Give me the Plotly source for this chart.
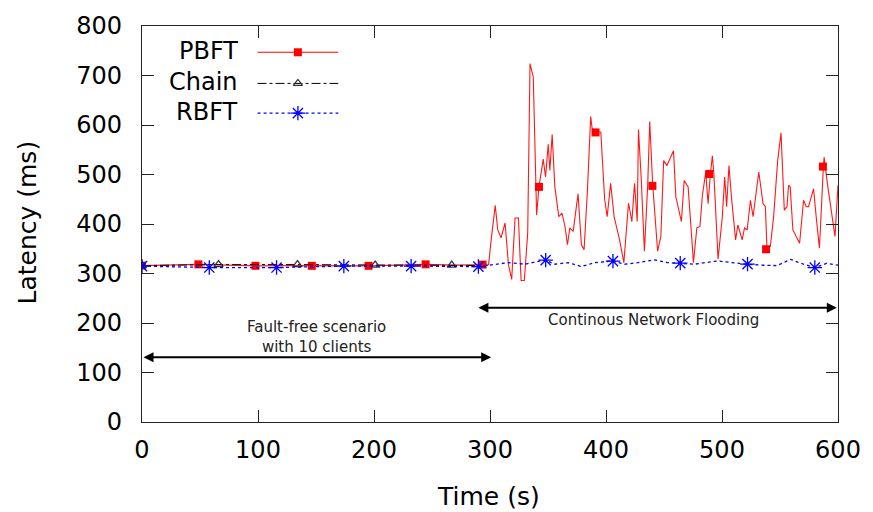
import plotly.graph_objects as go

# ---------------- data ----------------
pbft_t = [0, 24, 48.6, 73, 98, 122, 146, 171, 195, 220, 244.5, 270, 294, 298.8,
          301, 304.5, 306.7, 309.5, 313, 315.9, 318.7, 321.6, 324.5, 326.8, 329.6,
          332.5, 334.5, 337.3, 340.2, 342.2, 345.9, 347.9, 350.2, 351.6, 353.6,
          355.9, 359.3, 362, 364.5, 366.8, 368.8, 371.7, 375.9, 378.8, 381.1, 384,
          386.8, 388, 390, 393, 395.5, 398.8, 401, 404, 407, 409, 411.7, 415.4,
          419.4, 422.3, 424.6, 426.9, 428, 430.3, 433.1, 436, 437.7, 440.2, 444.5,
          447.3, 449.7, 452.5, 455.9, 458.2, 460.2, 463, 465, 467.4, 470.8, 475.4,
          478.3, 481, 483.1, 486, 488, 490, 491.7, 493, 496.6, 500.3, 502.3, 504,
          506, 508, 511.7, 513.7, 517.4, 519.4, 521.7, 524.5, 526.8, 531.7, 535.4,
          537.4, 538.8, 541.7, 544.5, 548, 550.9, 553.7, 556, 557.4, 558.8, 561.1,
          566.9, 570.3, 572.6, 574.6, 578.9, 581.2, 584, 587.4, 588, 590.9, 593.7,
          597.4, 600]
pbft_lat = [316, 317, 318.5, 317, 315.5, 316, 315.5, 316, 315.5, 317, 318.5, 317, 318, 318,
            368, 438, 388, 372, 402, 318, 288, 412, 412, 286, 286,
            382, 724, 697, 418, 475, 531, 495, 561, 508, 581,
            475, 415, 422, 397, 358, 392, 385, 461, 358, 348, 468,
            617, 594, 588, 586, 586, 451, 415, 482, 415, 397, 368, 322,
            442, 405, 482, 405, 591, 495, 345, 482, 607, 482, 345,
            375, 528, 518, 534, 548, 455, 428, 405, 488, 475, 322,
            392, 395, 458, 505, 441, 501, 538, 501, 329, 415, 495, 435,
            518, 458, 368, 398, 368, 392, 388, 448, 415, 505, 441,
            435, 348, 355, 415, 528, 584, 428, 435, 478, 475, 388,
            361, 448, 435, 435, 471, 415, 351, 516, 535, 481, 432,
            375, 478]
pbft_mark_t = [0, 48.6, 97.8, 146.4, 195.3, 244.5, 293.6, 342.2, 391, 440, 489, 538, 587]
pbft_mark_lat = [316, 318.5, 315.5, 315.5, 315.5, 318.5, 318, 475, 585, 477, 501, 349, 516]

chain_t = [0, 66, 134, 201, 267, 298]
chain_lat = [316, 318, 318, 317, 317, 316]
chain_mark_t = [0, 66, 134, 201, 267]
chain_mark_lat = [316, 318, 318, 317, 317]

rbft_t = [0, 58, 116, 174, 232, 290, 298.8, 316, 330.2, 347.4, 356, 367.4, 378.9,
          390.3, 406, 416, 427.5, 441.8, 453.2, 464, 476, 496, 507.4, 521.2, 536,
          547.5, 559, 570.4, 580.4, 590.4, 600]
rbft_lat = [315, 312, 312, 315, 315, 314, 316.7, 322, 318.7, 327.4, 318.7, 322, 314,
            322, 325.4, 318.7, 322, 327.4, 322, 320.7, 318.7, 325.4, 322, 318.7, 316.7,
            316, 328.6, 318.7, 312, 320.7, 316.7]
rbft_mark_t = [0, 58, 116, 174, 232, 290, 348, 406, 464, 522, 580]
rbft_mark_lat = [315, 312, 312, 315, 315, 314, 327, 325, 321, 319, 312]

series_names = ["PBFT", "Chain", "RBFT"]
x_ticks = [0, 100, 200, 300, 400, 500, 600]
y_ticks = [0, 100, 200, 300, 400, 500, 600, 700, 800]

# ---------------- styles ----------------
FONT = "DejaVu Sans"
RED = "#ff0000"
BLACK = "#000000"
BLUE = "#0000ff"

fig = go.Figure()

fig.add_trace(go.Scatter(x=pbft_t, y=pbft_lat, mode="lines",
                         line=dict(color=RED, width=1.1), opacity=0.9, showlegend=False))
fig.add_trace(go.Scatter(x=pbft_mark_t, y=pbft_mark_lat, mode="markers",
                         marker=dict(symbol="square", size=8, color=RED), showlegend=False))

fig.add_trace(go.Scatter(x=chain_t, y=chain_lat, mode="lines",
                         line=dict(color=BLACK, width=1, dash="dashdot"), showlegend=False))
fig.add_trace(go.Scatter(x=chain_mark_t, y=chain_mark_lat, mode="markers",
                         marker=dict(symbol="triangle-up-open", size=8, color="#333333",
                                     line=dict(width=1.2)), showlegend=False))

fig.add_trace(go.Scatter(x=rbft_t, y=rbft_lat, mode="lines",
                         line=dict(color=BLUE, width=1.3, dash="dot"), showlegend=False))
fig.add_trace(go.Scatter(x=rbft_mark_t, y=rbft_mark_lat, mode="markers",
                         marker=dict(symbol="asterisk-open", size=12, color=BLUE,
                                     line=dict(width=1.3, color=BLUE)), showlegend=False))

# ---------------- custom legend (text left, sample right) ----------------
leg_y = [0.9336, 0.855, 0.780]
leg_text_y = [0.938, 0.859, 0.7836]
leg_x0, leg_x1, leg_xm = 0.166, 0.282, 0.224
leg_styles = [
    (dict(color=RED, width=1.1), dict(symbol="square", size=8, color=RED)),
    (dict(color=BLACK, width=1, dash="dashdot"),
     dict(symbol="triangle-up-open", size=8, color="#333333", line=dict(width=1.2))),
    (dict(color=BLUE, width=1.3, dash="dot"),
     dict(symbol="asterisk-open", size=12, color=BLUE, line=dict(width=1.3, color=BLUE))),
]
for i, name in enumerate(series_names):
    ln, mk = leg_styles[i]
    fig.add_trace(go.Scatter(x=[leg_x0, leg_x1], y=[leg_y[i], leg_y[i]], mode="lines",
                             line=ln, xaxis="x2", yaxis="y2", showlegend=False,
                             hoverinfo="skip"))
    fig.add_trace(go.Scatter(x=[leg_xm], y=[leg_y[i]], mode="markers", marker=mk,
                             xaxis="x2", yaxis="y2", showlegend=False, hoverinfo="skip"))
    fig.add_annotation(x=0.1402, y=leg_text_y[i], xref="paper", yref="paper",
                       text=name, showarrow=False, xanchor="right", yanchor="middle",
                       font=dict(family=FONT, size=24, color="black"))

# ---------------- annotations ----------------
fig.add_annotation(x=301, y=131, ax=0, ay=131, xref="x", yref="y", axref="x", ayref="y",
                   text="", showarrow=True, arrowhead=2, startarrowhead=2,
                   arrowside="end+start", arrowsize=1, arrowwidth=2, arrowcolor="black")
fig.add_annotation(x=599, y=231, ax=288.7, ay=231, xref="x", yref="y", axref="x", ayref="y",
                   text="", showarrow=True, arrowhead=2, startarrowhead=2,
                   arrowside="end+start", arrowsize=1, arrowwidth=2, arrowcolor="black")
fig.add_annotation(x=150, y=172, xref="x", yref="y", showarrow=False,
                   text="Fault-free scenario<br>with 10 clients",
                   font=dict(family=FONT, size=15, color="#222222"))
fig.add_annotation(x=441, y=206, xref="x", yref="y", showarrow=False,
                   text="Continous Network Flooding",
                   font=dict(family=FONT, size=15, color="#222222"))

# axis titles
fig.add_annotation(x=0.498, y=-0.189, xref="paper", yref="paper", showarrow=False,
                   text="Time (s)", xanchor="center", yanchor="middle",
                   font=dict(family=FONT, size=25, color="black"))
fig.add_annotation(x=-0.1645, y=0.5025, xref="paper", yref="paper", showarrow=False,
                   text="Latency (ms)", textangle=-90, xanchor="center", yanchor="middle",
                   font=dict(family=FONT, size=25, color="black"))

axis_common = dict(showline=True, linecolor="#222222", linewidth=1.3, mirror="allticks",
                   ticks="inside", ticklen=12, tickwidth=1.3, tickcolor="#222222",
                   showgrid=False, zeroline=False,
                   tickfont=dict(family=FONT, size=24, color="black"))

fig.update_layout(
    width=873, height=512,
    margin=dict(l=142, r=32, t=20, b=90),
    plot_bgcolor="white", paper_bgcolor="white",
    showlegend=False,
    xaxis=dict(range=[0, 600], tickvals=x_ticks, ticklabelstandoff=6, **axis_common),
    yaxis=dict(range=[0, 800], tickvals=y_ticks, ticklabelstandoff=14, **axis_common),
    xaxis2=dict(overlaying="x", range=[0, 1], visible=False),
    yaxis2=dict(overlaying="y", range=[0, 1], visible=False),
)

fig.write_html("out.html",
               config={"displayModeBar": False},
               post_script="document.body.style.margin='0';document.body.style.overflow='hidden';")
